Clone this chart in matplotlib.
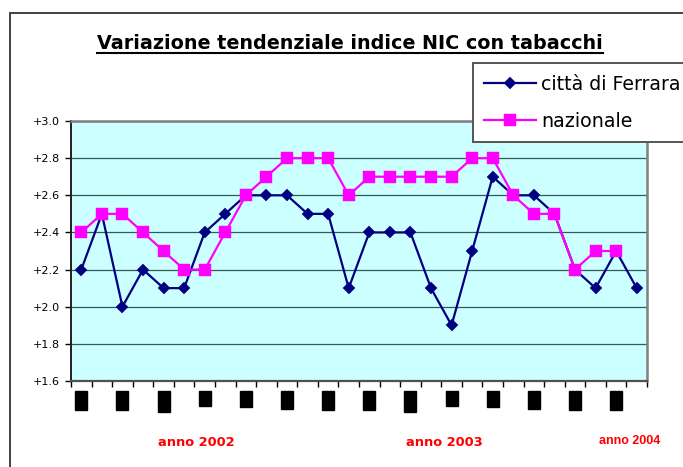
import numpy as np
import matplotlib
matplotlib.use('Agg')
import matplotlib.pyplot as plt
import matplotlib.transforms as mtransforms
from matplotlib.patches import Rectangle
from matplotlib.lines import Line2D

# ---------------- data ----------------
months = ['gen', 'feb', 'mar', 'apr', 'mag', 'giu', 'lug', 'ago', 'set', 'ott', 'nov', 'dic',
          'gen', 'feb', 'mar', 'apr', 'mag', 'giu', 'lug', 'ago', 'set', 'ott', 'nov', 'dic',
          'gen', 'feb', 'mar', 'apr']
ferrara = [2.2, 2.5, 2.0, 2.2, 2.1, 2.1, 2.4, 2.5, 2.6, 2.6, 2.6, 2.5, 2.5, 2.1,
           2.4, 2.4, 2.4, 2.1, 1.9, 2.3, 2.7, 2.6, 2.6, 2.5, 2.2, 2.1, 2.3, 2.1]
nazionale = [2.4, 2.5, 2.5, 2.4, 2.3, 2.2, 2.2, 2.4, 2.6, 2.7, 2.8, 2.8, 2.8, 2.6,
             2.7, 2.7, 2.7, 2.7, 2.7, 2.8, 2.8, 2.6, 2.5, 2.5, 2.2, 2.3, 2.3]
series_names = ['città di Ferrara', 'nazionale']
title_text = 'Variazione tendenziale indice NIC con tabacchi'
year_labels = ['anno 2002', 'anno 2003', 'anno 2004']
year_pos = [5.58, 17.63, 26.67]
yticks = [1.6, 1.8, 2.0, 2.2, 2.4, 2.6, 2.8, 3.0]

W, H = 683, 467
fig = plt.figure(figsize=(W / 100, H / 100), dpi=100)
fig.patch.set_facecolor('white')

# outer chart border
fig.patches.append(Rectangle((10 / W, -0.2), 1.5, (H - 12.5) / H + 0.2,
                             transform=fig.transFigure, fill=False,
                             edgecolor='#333333', linewidth=1.3, zorder=0))

ax = fig.add_axes([71 / W, 86 / H, 576 / W, 260 / H])
ax.set_facecolor('#CCFFFF')

n = len(ferrara)
x_f = np.arange(n)
x_n = np.arange(len(nazionale))

ax.plot(x_f, ferrara, color='#000080', lw=1.6, marker='D', ms=5.8,
        mfc='#000080', mec='#000080', mew=0.3, label=series_names[0], zorder=3)
ax.plot(x_n, nazionale, color='#FF00FF', lw=1.6, marker='s', ms=8.8,
        mfc='#FF00FF', mec='#FF00FF', mew=0.3, label=series_names[1], zorder=4)

ax.set_xlim(-0.5, n - 0.5)
ax.set_ylim(1.6, 3.0)

# y axis
ax.set_yticks(yticks)
ax.set_yticklabels(['+%.1f' % v for v in yticks], fontsize=8,
                   family='DejaVu Sans')
ax.tick_params(axis='y', direction='out', length=4, width=1, pad=3.8,
               colors='black')
ax.yaxis.grid(True, color='#355858', lw=0.9)
ax.set_axisbelow(True)

# x axis: boundary ticks + month labels (rendered as black boxes)
ax.set_xticks(np.arange(-0.5, n, 1.0))
ax.set_xticklabels([])
ax.tick_params(axis='x', which='major', direction='out', length=4, width=1,
               color='black')
ax.set_xticks(x_f[::2], minor=True)
ax.set_xticklabels(months[::2], minor=True, rotation=90, fontsize=7,
                   family='Liberation Sans', color='black')
ax.tick_params(axis='x', which='minor', length=0, pad=8.2)
for lab in ax.get_xticklabels(minor=True):
    lab.set_bbox(dict(facecolor='black', edgecolor='black', pad=0.8))

for s in ['top', 'right']:
    ax.spines[s].set_color('#808080')
    ax.spines[s].set_linewidth(1.8)
ax.spines['bottom'].set_color('#505050')
ax.spines['bottom'].set_linewidth(1.6)
ax.spines['left'].set_color('#202020')
ax.spines['left'].set_linewidth(1.4)

# year labels
trans = mtransforms.blended_transform_factory(ax.transData, fig.transFigure)
for i, (lab, xp) in enumerate(zip(year_labels, year_pos)):
    if i < 2:
        ax.text(xp, (H - 446) / H, lab, transform=trans, ha='center', va='baseline',
                fontsize=9.4, fontweight='bold', color='#FF0000',
                family='DejaVu Sans', clip_on=False)
    else:
        ax.text(xp, (H - 444) / H, lab, transform=trans, ha='center', va='baseline',
                fontsize=9.0, fontweight='bold', color='#FF0000',
                family='Liberation Sans', clip_on=False)

# title (underlined)
title = fig.text(350 / W, (H - 49.3) / H, title_text, ha='center', va='baseline',
                 fontsize=13.8, fontweight='bold', family='DejaVu Sans')
fig.canvas.draw()
bb = title.get_window_extent()
uy = (H - 52.7) / H
fig.add_artist(Line2D([bb.x0 / W, bb.x1 / W], [uy, uy], transform=fig.transFigure,
                      color='black', lw=1.5))

# legend
leg = fig.legend(loc='upper left', bbox_to_anchor=(472.7 / W, (H - 63.3) / H),
                 borderaxespad=0, prop={'family': 'DejaVu Sans', 'size': 13.7},
                 handlelength=2.75, handletextpad=0.26, borderpad=0.6,
                 labelspacing=0.95, fancybox=False, framealpha=1,
                 edgecolor='#555555', facecolor='white')
leg.get_frame().set_linewidth(1.4)

fig.savefig('out.png', dpi=100)
